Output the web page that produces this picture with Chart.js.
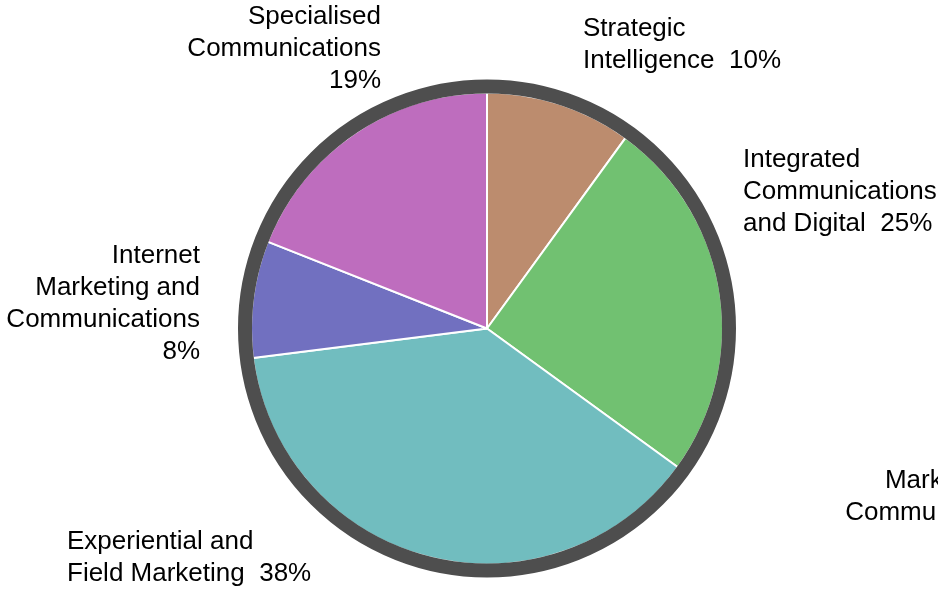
<!DOCTYPE html>
<html lang="en">
  <head>
    <meta charset="UTF-8" />
    <title>Division share</title>
    <style>
      html, body { margin: 0; padding: 0; background: #fff; }
      .chartBox { width: 938px; height: 591px; position: relative; }
    </style>
  </head>
  <body>
    <div class="chartBox">
      <canvas id="myChart"></canvas>
    </div>
    <script src="https://cdn.jsdelivr.net/npm/chart.js"></script>
    <script>
      // slice data, clockwise from 12 o'clock
      const categories = [
        "Strategic Intelligence",
        "Integrated Communications and Digital",
        "Marketing Communications",
        "Experiential and Field Marketing",
        "Internet Marketing and Communications",
        "Specialised Communications",
      ];
      const shares = [10, 25, 0, 38, 8, 19];
      const sliceColors = ["#bc8c6e", "#71c171", "#71bdbf", "#71bdbf", "#7170c0", "#be6dbe"];

      // label text lines (last line carries the percentage)
      const labelLines = [
        ["Strategic", "Intelligence  " + shares[0] + "%"],
        ["Integrated", "Communications", "and Digital  " + shares[1] + "%"],
        ["Marketing", "Communications"],
        ["Experiential and", "Field Marketing  " + shares[3] + "%"],
        ["Internet", "Marketing and", "Communications", shares[4] + "%"],
        ["Specialised", "Communications", shares[5] + "%"],
      ];
      // where each label sits relative to the pie centre
      const labelLayout = [
        { dx: 96, dy: -293, align: "left" },
        { dx: 256, dy: -162, align: "left" },
        { dx: 455, dy: 159, align: "center" },
        { dx: -420, dy: 220, align: "left" },
        { dx: -287, dy: -66, align: "right" },
        { dx: -106, dy: -305, align: "right" },
      ];

      // thick dark rim, overlapping the white slice edge
      const rimPlugin = {
        id: "rim",
        afterDatasetsDraw(chart) {
          const arc = chart.getDatasetMeta(0).data[0];
          const ctx = chart.ctx;
          ctx.save();
          ctx.beginPath();
          ctx.arc(arc.x, arc.y, arc.outerRadius + 6, 0, Math.PI * 2);
          ctx.lineWidth = 14;
          ctx.strokeStyle = "#4e4e4e";
          ctx.stroke();
          ctx.restore();
        },
      };

      const labelPlugin = {
        id: "sliceLabels",
        afterDraw(chart) {
          const arc = chart.getDatasetMeta(0).data[0];
          const ctx = chart.ctx;
          ctx.save();
          ctx.font = '26px "Liberation Sans", Arial, sans-serif';
          ctx.fillStyle = "#000";
          ctx.textBaseline = "alphabetic";
          labelLines.forEach((lines, i) => {
            const l = labelLayout[i];
            ctx.textAlign = l.align;
            lines.forEach((t, j) => {
              ctx.fillText(t, arc.x + l.dx, arc.y + l.dy + j * 32);
            });
          });
          ctx.restore();
        },
      };

      const ctx = document.getElementById("myChart").getContext("2d");
      const myChart = new Chart(ctx, {
        type: "pie",
        data: {
          labels: categories,
          datasets: [
            {
              data: shares,
              backgroundColor: sliceColors,
              borderColor: "#ffffff",
              borderWidth: 2,
            },
          ],
        },
        options: {
          responsive: true,
          maintainAspectRatio: false,
          animation: false,
          radius: 236,
          layout: { padding: { left: 36, right: 0, top: 66, bottom: 0 } },
          plugins: {
            legend: { display: false },
            tooltip: { enabled: false },
          },
        },
        plugins: [rimPlugin, labelPlugin],
      });
    </script>
  </body>
</html>
